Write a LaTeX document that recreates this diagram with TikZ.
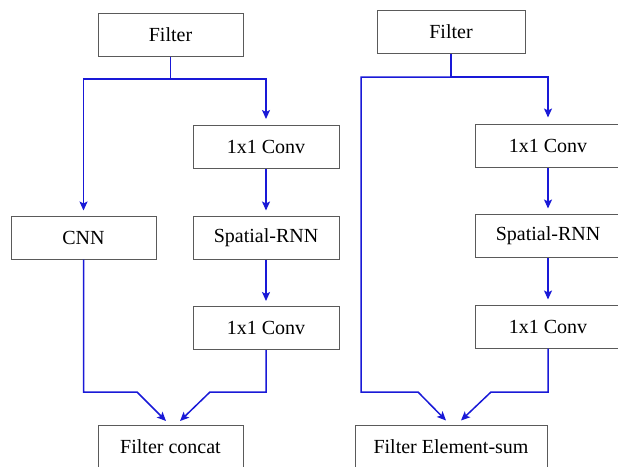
\documentclass[tikz,border=0pt]{standalone}
\usepackage{fontspec}
\setmainfont{Liberation Serif}
\usetikzlibrary{arrows.meta}
\definecolor{linkblue}{RGB}{25,25,215}
\definecolor{boxgray}{RGB}{90,90,90}
\tikzset{
  box/.style={draw=boxgray, line width=1pt, fill=white, minimum height=43pt, inner sep=0pt,
    font=\fontsize{20}{24}\selectfont},
  link/.style={draw=linkblue, line width=1.5pt},
  arrow/.style={link, -{Stealth[length=9pt,width=8pt,inset=2pt]}},
}
\begin{document}
\begin{tikzpicture}[x=1pt,y=-1pt]
\useasboundingbox (0,0) rectangle (618,466);
\clip (0,0) rectangle (618,466);
% left diagram
\node[box, minimum width=145pt] (fa) at (170.5,34.5) {Filter};
\node[box, minimum width=145pt] (cnn) at (83.5,237.5) {CNN};
\node[box, minimum width=146pt] (ca1) at (266,147) {1x1 Conv};
\node[box, minimum width=146pt] (ca2) at (266,237.5) {Spatial-RNN};
\node[box, minimum width=146pt] (ca3) at (266,328) {1x1 Conv};
\node[box, minimum width=145pt] (concat) at (170.5,447) {Filter concat};
\coordinate (ja) at (170.5,79);
\draw[link] (fa.south) -- (ja);
\draw[arrow, shorten >=5pt] (ja) -| (cnn.north);
\draw[arrow, shorten >=6pt] (ja) -| (ca1.north);
\draw[arrow, shorten >=5pt] (ca1.south) -- (ca2.north);
\draw[arrow, shorten >=5pt] (ca2.south) -- (ca3.north);
\draw[arrow] (cnn.south) |- (137,392) -- ([shift={(-4.5,-4)}]concat.north);
\draw[arrow] (ca3.south) |- (210,392) -- ([shift={(9.5,-4)}]concat.north);
% right diagram
\node[box, minimum width=148pt] (fb) at (451,31.5) {Filter};
\node[box, minimum width=146pt] (cb1) at (548,145.5) {1x1 Conv};
\node[box, minimum width=146pt] (cb2) at (548,235.5) {Spatial-RNN};
\node[box, minimum width=146pt] (cb3) at (548,326.5) {1x1 Conv};
\node[box, minimum width=192pt] (esum) at (451,446.5) {Filter Element-sum};
\coordinate (jb) at (451,77);
\draw[link] (fb.south) -- (jb);
\draw[arrow, shorten >=6pt] (jb) -| (cb1.north);
\draw[arrow, shorten >=5pt] (cb1.south) -- (cb2.north);
\draw[arrow, shorten >=5pt] (cb2.south) -- (cb3.north);
\draw[arrow] (jb) -| (361,392) -- (418,392) -- ([shift={(-5,-4)}]esum.north);
\draw[arrow] (cb3.south) |- (491,392) -- ([shift={(10,-4)}]esum.north);
\end{tikzpicture}
\end{document}
